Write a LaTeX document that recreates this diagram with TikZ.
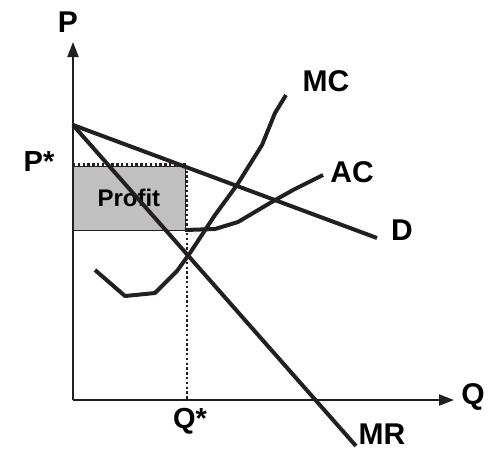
\documentclass[tikz,border=0pt]{standalone}
\usepackage{fontspec}
\setmainfont{Liberation Sans}
\usetikzlibrary{arrows.meta}
\definecolor{ink}{HTML}{231F20}
\definecolor{profitgray}{HTML}{C0C0C0}
\begin{document}
\begin{tikzpicture}[x=1pt,y=-1pt,
  axis/.style={draw=ink,line width=2.2pt,-{Triangle[length=15pt,width=11pt]}},
  curve/.style={draw=ink,line width=4pt,line join=round},
  guide/.style={draw=ink,line width=2.6pt,dash pattern=on 2.4pt off 2.4pt},
  biglabel/.style={font=\fontsize{30}{30}\selectfont\bfseries,text=black,inner sep=0pt},
  smalllabel/.style={font=\fontsize{29}{29}\selectfont\bfseries,text=black,inner sep=0pt}]
\useasboundingbox (0,0) rectangle (489,451);
% profit box
\node[draw=ink,line width=0.8pt,fill=profitgray,minimum width=113pt,minimum height=64pt,inner sep=0pt,anchor=north west] (profit) at (72,166) {};
\node[font=\fontsize{24}{24}\selectfont\bfseries,inner sep=0pt] (profittext) at (profit.center) {Profit};
% axes
\coordinate (O) at (73,400);
\coordinate (ytop) at (73,42);
\coordinate (xend) at (454,400);
\draw[axis] (O) -- (ytop);
\draw[axis] (O) -- (xend);
% guides
\coordinate (pstar) at (73,164.5);
\coordinate (qtop) at (187,164.5);
\coordinate (qbot) at (187,400);
\draw[guide] (pstar) -- (qtop) -- (qbot);
% demand and MR
\coordinate (A) at (73,125);
\coordinate (Dend) at (377,238);
\coordinate (MRend) at (356,446);
\draw[curve] (A) -- (Dend);
\draw[curve] (A) -- (MRend);
% MC
\draw[curve] (95,270) -- (125,296) -- (155,293) -- (177,271) -- (190,253) -- (215,215) -- (237,185) -- (262,145) -- (275,113) -- (286,95);
% AC
\draw[curve] (185,230) -- (215,229) -- (238,222) -- (270,203) -- (293,190) -- (323,175);
% labels
\node[biglabel] (Plab) at (68,22) {P};
\node[biglabel] (Qlab) at (473,397) {Q};
\node[biglabel] (MClab) at (326,81) {MC};
\node[biglabel] (AClab) at (352,172) {AC};
\node[biglabel] (Dlab) at (402,230) {D};
\node[biglabel] (MRlab) at (382,434) {MR};
\node[smalllabel] (Pstarlab) at (39,162) {P*};
\node[smalllabel] (Qstarlab) at (190,421) {Q*};
\end{tikzpicture}
\end{document}
